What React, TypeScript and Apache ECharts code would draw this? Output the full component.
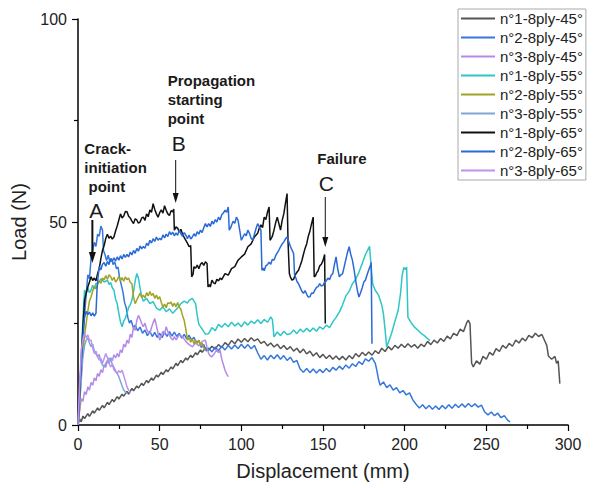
import React, { useEffect, useRef } from "react";
import * as echarts from "echarts";

const FONT = "Liberation Sans, Arial, sans-serif";

const seriesNames = [
  "n°1-8ply-45°", "n°2-8ply-45°", "n°3-8ply-45°",
  "n°1-8ply-55°", "n°2-8ply-55°", "n°3-8ply-55°",
  "n°1-8ply-65°", "n°2-8ply-65°", "n°3-8ply-65°",
];
const seriesColors = [
  "#555555", "#3677db", "#b48ae6",
  "#2ec6c6", "#a2a224", "#7fa6d8",
  "#111111", "#2a6ad6", "#c290ee",
];

const xTicks = { min: 0, max: 300, interval: 50 };
const yTicks = { min: 0, max: 100, interval: 50 };

const s1_45: number[][] = [[0,0],[1,1.5],[2,0.8],[3,2.2],[4,1.6],[6,2.8],[7,2.1],[9,3.5],[10,2.9],[12,4.2],[13,3.6],[15,4.8],[16,4.2],[18,5.6],[19,5.0],[21,6.3],[22,5.7],[24,7.0],[25,6.4],[27,7.6],[28,7.1],[30,8.3],[31,7.6],[33,9.0],[34,8.4],[36,9.6],[37,9.1],[39,10.3],[40,9.7],[42,11.0],[43,10.4],[45,11.6],[46,11.0],[48,12.3],[49,11.8],[51,13.0],[52,12.4],[54,13.6],[55,13.1],[57,14.3],[58,13.8],[60,15.2],[61,14.6],[63,15.9],[64,15.3],[66,16.5],[67,16.0],[69,17.2],[70,16.6],[72,17.8],[73,17.3],[75,18.5],[76,17.9],[78,19.0],[80,18.4],[82,19.4],[84,18.7],[86,19.8],[88,19.1],[90,20.3],[92,19.6],[94,20.8],[96,20.0],[98,21.2],[100,20.4],[102,21.3],[104,20.5],[106,21.5],[108,20.7],[110,21.2],[112,20.1],[114,20.6],[116,19.5],[118,20.2],[120,19.2],[122,19.9],[124,18.8],[126,19.6],[128,18.6],[130,19.3],[132,18.2],[134,18.9],[136,17.8],[138,18.7],[140,17.5],[142,18.2],[144,17.0],[146,17.8],[148,16.6],[150,17.4],[152,16.4],[154,17.2],[156,16.2],[158,17.0],[160,16.1],[162,16.9],[164,16.0],[166,17.1],[168,16.3],[170,17.6],[172,16.8],[174,17.9],[176,17.1],[178,18.0],[180,17.2],[182,18.3],[184,17.6],[186,18.9],[188,18.1],[190,19.3],[192,18.5],[194,19.6],[196,18.9],[198,19.9],[200,19.1],[202,20.0],[204,19.2],[206,19.8],[208,18.9],[210,19.9],[212,19.3],[214,20.6],[216,19.8],[218,20.9],[220,20.2],[222,21.3],[224,20.6],[226,21.9],[228,21.2],[230,22.6],[232,22.0],[234,23.6],[236,23.0],[238,25.2],[239,25.8],[240,24.9],[241,15.2],[242,14.3],[244,15.8],[246,15.0],[248,16.9],[250,16.2],[252,17.9],[254,17.2],[256,18.8],[258,18.1],[260,19.6],[262,18.9],[264,20.1],[266,19.4],[268,20.9],[270,20.2],[272,21.4],[274,20.7],[276,22.1],[278,21.5],[280,22.6],[282,21.8],[284,22.3],[286,20.5],[287,19.6],[288,17.0],[290,16.2],[292,16.9],[293,15.2],[294,15.8],[295,10.2]];

const s2_45: number[][] = [[0,0],[1,6],[2,14],[3,21],[4,27],[5,32],[6,37],[7,36],[8,41],[9,43],[10,45],[11,44],[12,47],[13,46.5],[14,49],[15,48],[15.6,43],[16.5,42],[17.5,40.5],[18.5,41.8],[19.5,40.2],[20.5,41],[21.5,39.5],[22.5,40.2],[23.5,38.5],[24.5,38.9],[25.5,36.2],[26.5,34.5],[27.5,32.8],[28.5,30.2],[29.5,28.9],[30.5,26.5],[31.5,25.1],[32.5,25.8],[34,23.8],[35,24.6],[36.5,23.2],[38,24.1],[39.5,22.6],[41,23.4],[42.5,22.0],[44,23.1],[45.5,21.8],[47,22.8],[48.5,21.6],[50,22.6],[51.5,21.5],[53,22.9],[54.5,21.8],[56,23.0],[57.5,21.9],[59,22.9],[60.5,21.8],[62,22.6],[63.5,21.4],[65,22.3],[66.5,21.2],[68,22.1],[69.5,21.0],[71,21.6],[72.5,20.2],[74,20.8],[75.5,19.1],[77,19.8],[78.5,18.2],[80,19.0],[82,18.0],[84,19.2],[86,18.3],[88,19.4],[90,18.5],[92,19.6],[94,18.7],[96,19.7],[98,18.8],[100,19.9],[102,18.9],[104,19.8],[106,18.8],[108,19.6],[110,17.8],[112,16.2],[114,17.1],[116,16.0],[118,17.2],[120,16.3],[122,17.3],[124,16.2],[126,17.1],[128,15.9],[130,16.7],[132,15.4],[134,15.9],[136,13.8],[138,13.0],[140,13.9],[142,12.9],[144,13.8],[146,12.8],[148,13.7],[150,12.9],[152,13.9],[154,13.1],[156,14.2],[158,13.5],[160,14.5],[162,13.7],[164,14.8],[166,14.0],[168,15.1],[170,14.4],[172,15.6],[174,14.9],[176,16.3],[178,15.7],[180,16.6],[182,15.2],[183,13.4],[184,11.2],[185,9.8],[187,10.6],[189,9.2],[191,9.9],[193,8.6],[195,9.2],[197,7.9],[199,8.5],[201,7.4],[203,7.9],[205,6.2],[207,5.1],[209,4.2],[211,5.0],[213,4.0],[215,4.8],[217,3.9],[219,4.7],[221,3.8],[223,4.8],[225,4.0],[227,5.0],[229,4.1],[231,5.1],[233,4.3],[235,5.2],[237,4.4],[239,5.3],[241,4.5],[243,5.2],[245,4.4],[247,4.9],[249,3.2],[251,2.5],[253,3.2],[255,2.3],[257,2.9],[259,1.8],[261,2.3],[263,1.2],[264.5,0.8]];

const s3_45: number[][] = [[0,0],[1,3.5],[2,6.5],[3,5.8],[4,8.2],[5,7.5],[6,9.4],[7,8.6],[8,10.5],[9,9.8],[10,11.6],[11,10.9],[12,12.7],[13,12.0],[14,13.6],[15,12.9],[16,14.8],[17,14.2],[18,16.0],[19,15.1],[20,16.6],[21,15.8],[22,17.3],[23,16.5],[24,17.6],[25,16.8],[26,18.5],[27,17.8],[28,19.9],[29,19.2],[30,20.9],[31,20.1],[32,22.4],[33,21.6],[34,24.2],[35,23.3],[36,25.8],[37,27.0],[38,26.1],[39,25.0],[40,24.2],[41,25.1],[42,23.6],[43,22.8],[44,22.5],[45,24.0],[46,25.2],[47,26.2],[48,24.5],[49,22.6],[50,20.9],[51,22.0],[52,23.1],[53,22.4],[54,24.2],[55,23.0],[56,22.1],[57,21.4],[58,20.9],[59,21.8],[60,21.0],[62,22.2],[64,21.7],[66,20.6],[68,19.8],[70,19.3],[72,20.2],[74,19.5],[76,20.6],[78,20.9],[79,19.1],[80,17.6],[81,17.0],[82,16.8],[84,17.9],[85,18.6],[86,17.8],[87,18.4],[88,16.2],[89,14.9],[90,13.5],[91,12.6],[92,11.9]];

const s1_55: number[][] = [[0,0],[1,6],[2,16.8],[3,26],[4,33.2],[5,32.4],[6,33.8],[7,32.6],[8,33.2],[9,34.4],[10,33.5],[11,34.9],[12,34.8],[14,36.0],[16,35.2],[18,35.7],[19,34.6],[20,35.1],[21,33.8],[22,33.2],[23,31.0],[24,29.9],[25,27.5],[26,25.4],[27,24.2],[28,25.6],[29,26.3],[30,27.5],[31,29.0],[32,29.6],[33,30.7],[34,32.8],[35,35.5],[36,37.3],[37,36.2],[38,33.8],[39,31.6],[40,30.5],[42,31.2],[44,29.9],[46,30.4],[48,28.8],[50,28.3],[52,29.1],[54,27.9],[56,28.6],[58,27.5],[60,28.4],[62,29.3],[63,29.9],[65,30.5],[67,30.0],[68,30.7],[70,31.2],[72,29.9],[73,27.0],[74,24.8],[76,23.6],[78,22.4],[80,22.5],[82,24.0],[84,23.2],[86,24.8],[88,24.1],[90,25.0],[92,24.2],[94,25.3],[96,24.4],[98,25.1],[100,24.2],[102,25.4],[104,24.6],[106,25.6],[108,25.0],[110,25.9],[112,25.0],[114,26.0],[116,25.3],[118,26.6],[119,26.0],[120,21.7],[122,22.9],[124,22.0],[126,23.1],[128,22.3],[130,22.5],[132,23.4],[134,22.5],[136,23.6],[138,22.9],[140,23.8],[142,23.0],[144,23.9],[146,23.1],[148,24.2],[150,23.6],[152,24.6],[154,24.0],[156,25.4],[158,26.5],[160,27.8],[162,29.6],[164,31.8],[166,32.9],[168,34.8],[170,35.9],[172,37.6],[174,39.8],[176,42.0],[177,42.8],[178.5,44.0],[179.5,39.0],[180.5,34.6],[182,33.2],[184,32.0],[186,29.5],[187,27.4],[188,23.5],[189,19.2],[190,20.3],[192,22.6],[194,25.5],[196,28.2],[197.5,32.5],[198.5,37.0],[199.5,38.8],[200.5,38.3],[201.2,38.9],[202,26.5],[204,25.2],[206,24.1],[208,23.4],[210,22.6],[212,22.0],[214,21.3],[215.5,20.8]];

const s2_55: number[][] = [[0,0],[1,4],[2,12.7],[3,18],[4,22],[5,25],[6,28],[7,30.5],[8,31.6],[9,33],[10,34.2],[11,33.5],[12,34.8],[13,35.5],[14,34.9],[15,36.2],[16,35.7],[17,36.8],[18,35.9],[19,37.0],[20,36.5],[21,35.6],[22,36.4],[23,35.2],[24,35.7],[25,36.6],[26,35.5],[27,36.3],[28,35.4],[29,36.5],[30,35.8],[31,36.2],[32,35.1],[33,34.8],[34,31.5],[35,29.9],[36,30.8],[37,31.6],[38,32.5],[39,31.4],[40,32.0],[41,31.3],[42,32.6],[43,31.8],[44,32.9],[45,31.9],[46,32.4],[47,31.2],[48,32.0],[49,31.0],[50,31.6],[51,30.2],[52,29.0],[53,29.8],[54,28.9],[55,30.1],[56,29.9],[57,30.3],[58,29.2],[59,30.0],[60,29.1],[61,30.2],[62,29.0],[63,28.5],[64,27.0],[65,25.8],[66,23.6],[67,20.9],[68,21.5],[69,20.4],[70,21.2],[71,20.0],[72,20.9],[73,20.1],[74,20.9],[75,19.6],[76,20.2],[77,19.0],[78,18.4]];

const s3_55: number[][] = [[0,0],[0.5,3],[1,6],[2,11],[3,16.8],[4,19.5],[5,20.9],[6,21.5],[7,20.2],[8,19.3],[9,19.9],[10,18.2],[11,17.5],[12,16.8],[13,17.4],[14,15.6],[15,14.8],[16,14.3],[17,15.2],[18,15.8],[19,16.5],[20,16.0],[21,15.0],[22,14.2],[23,13.4],[24,12.7],[25,11.9],[26,10.8],[27,9.6],[28,8.6],[29,8.1],[30,7.8]];

const s1_65: number[][] = [[0,0],[1,8],[2,16],[3,24],[4,30.7],[5,32.5],[6,34],[7,35.2],[8,36.5],[9,35.6],[10,36.2],[11,35.5],[12,37.3],[13,38.5],[14,41],[15,43],[16,44.2],[17,46],[18,47],[19,46.0],[20,46.5],[21,45.8],[22,46.3],[23,47.8],[24,49],[25,50.5],[26,52],[27,51.0],[28,51.5],[29,52.6],[30,52.5],[31,51.4],[32,51],[33,50.2],[34,49.6],[35,50.8],[36,50.5],[37,49.7],[38,50],[39,51.0],[40,51.2],[41,50.4],[42,52],[43,51.3],[44,53],[45,52.4],[46,54.5],[47,53.1],[48,52],[49,51.2],[50,52.3],[51,53],[52,52.2],[53,54],[54,52.9],[55,52],[56,51.6],[57,52.8],[58,52.5],[58.6,53.2],[59,48],[60,48.8],[61,48.5],[62,47.6],[63,48.2],[64,47],[65,46.2],[66,45.5],[67,44.8],[68,43.9],[69,44.2],[69.6,36.5],[70.5,37.2],[71,39],[72,38.6],[73,39.4],[74,38.5],[75,39.6],[76,40],[77,39.3],[78,40.2],[79,39.8],[79.6,34],[80.5,34.6],[81,34],[82,35.7],[83,35.0],[84,34.8],[85,35.9],[86,35.5],[87,36.2],[88,35.8],[90,37.3],[92,36.9],[94,38.5],[96,39.0],[98,40.6],[100,41.4],[102,42.1],[104,43.9],[106,44.6],[108,46.3],[110,47.2],[111,48.5],[112,49.3],[113,48.6],[114,51.2],[115,50.6],[116,52.4],[117,53.7],[117.6,45.5],[118.5,46.1],[119,46.5],[120,48],[121,49.8],[122,51.2],[123,49.6],[124,48],[125,50.4],[126,52],[127,54.6],[128,57],[128.6,45],[129.4,37.3],[130,36.5],[131,35.7],[132,35.9],[133,37.0],[134,37.6],[135,38.1],[136,39.2],[137,40.4],[138,42],[139,43.5],[140,44.6],[141,46.5],[142,47.8],[143,49.6],[144,51.2],[144.6,36.5],[145.5,36.8],[146,37.4],[147,38],[148,39.2],[149,39.6],[150,40.5],[151,42],[151.4,25]];

const s2_65: number[][] = [[0,0],[1,8],[2,15],[3,22],[4,26.5],[5,28],[6,27.2],[7,27.8],[8,26.9],[9,27.6],[10,26.8],[11,27.5],[11.6,33],[12.3,36.5],[13,39],[14,38.2],[15,39.6],[16,40],[17,39.1],[18,40.3],[19,39.5],[20,41],[21,40.2],[22,41.2],[23,40.4],[24,41.4],[25,40.6],[26,41.7],[27,40.9],[28,42.0],[29,41.3],[30,42],[31,41.4],[32,42.6],[33,41.9],[34,43],[35,42.3],[36,43.5],[37,42.8],[38,44.1],[39,43.4],[40,44],[41,43.5],[42,44.8],[43,44.2],[44,45.5],[45,44.8],[46,45.9],[47,45.2],[48,46.3],[49,45.5],[50,46],[51,45.6],[52,46.8],[53,46.1],[54,47],[55,46.4],[56,47.6],[57,46.9],[58,47.5],[59,46.6],[60,47.3],[61,46.7],[62,48],[63,47.1],[64,46.5],[65,47.4],[66,46.8],[67,45.9],[68,46.8],[69,45.8],[70,46.3],[71,47.1],[72,46.5],[73,47.6],[74,47.0],[75,48],[76,47.4],[77,48.6],[78,49.6],[79,48.8],[80,49.6],[81,48.9],[82,50.2],[83,49.5],[84,50.6],[85,50.0],[86,51.2],[87,50.5],[88,51.8],[89,52.2],[90,52.9],[91,52.4],[92,53.7],[92.6,48],[93.5,48.6],[94,49.2],[95,50.2],[96,49.7],[97,51.2],[98,50.4],[99,48.0],[100,45.5],[101,46.3],[102,47.1],[103,46.6],[104,48],[105,47.2],[106,46.0],[107,45.5],[108,47.0],[109,48.4],[110,49.6],[111,48.8],[112,48],[112.6,38.1],[113.5,38.6],[114,38.0],[115,39.2],[116,39.5],[117,40.1],[118,39.6],[119,40.8],[120,40.6],[121,41.7],[122,42.4],[123,43.1],[124,43.9],[125,44.6],[126,45.1],[127,45.8],[128,46.3],[129,45.2],[130,44],[131,43.1],[132,42.2],[132.6,37],[133.5,36.1],[134,35.4],[135,34.8],[136,33.9],[137,33.0],[138,32.4],[139,33.1],[140,32.2],[141,31.5],[142,31.6],[143,32.5],[144,32.4],[145,33.2],[146,33.9],[147,34.1],[148,34.8],[149,34.2],[150,34.4],[151,35.2],[152,35.5],[153,36.2],[154,35.8],[155,36.9],[156,37.3],[157,39.5],[158,41.4],[159,38.5],[160,36.5],[161,37.0],[162,37.3],[163,39.0],[164,40.8],[165,42.5],[166,43.9],[167,42.0],[168,40.6],[169,38.3],[170,35.6],[171,33.2],[172,31.5],[173,32.6],[174,33.8],[175,35.2],[176,35.7],[177,37.0],[178,38.2],[179,39.3],[179.5,40.0],[180,20.0]];

const s3_65: number[][] = [[0,0],[0.5,5],[1,10],[1.5,14],[2,18.5],[3,21],[4,22.5],[5,21.5],[6,22.2],[7,20.9],[8,20.9],[9,18.9],[10,17.6],[11,18.2],[12,16.8],[13,16.0],[14,16.4],[15,15.2],[16,16.4],[17,17.6],[18,16.6],[19,15.2],[20,14.3],[21,14.9],[22,13.6],[23,13.1],[24,12.7],[25,13.4],[26,12.9],[27,13.5],[28,12.2],[29,10.8],[30,9.4],[31,8.6],[32,8.0]];

const seriesData = [s1_45, s2_45, s3_45, s1_55, s2_55, s3_55, s1_65, s2_65, s3_65];

// annotation anchors (x in data units)
const annoA = { x: 8.8, lines: ["Crack-", "initiation", " point"], letter: "A" };
const annoB = { x: 59.8, lines: ["Propagation", "starting", "point"], letter: "B" };
const annoC = { x: 151.4, lines: ["Failure"], letter: "C" };

export default function App() {
  const ref = useRef<HTMLDivElement>(null);
  useEffect(() => {
    if (!ref.current) return;
    const chart = echarts.init(ref.current, null, { renderer: "svg" });
    const axisCommon = {
      axisLine: { show: true, lineStyle: { color: "#000", width: 1.5 } },
      axisTick: { show: true, inside: false, length: 6, lineStyle: { color: "#000", width: 1.2 } },
      minorTick: { show: true, splitNumber: 2, length: 4, lineStyle: { color: "#000", width: 1.2 } },
      splitLine: { show: false },
      axisLabel: { color: "#222", fontSize: 16, fontFamily: FONT, margin: 11 },
      nameTextStyle: { color: "#222", fontSize: 20, fontFamily: FONT },
    };
    chart.setOption({
      animation: false,
      backgroundColor: "#fff",
      grid: { left: 78, right: 29, top: 19, bottom: 63, containLabel: false },
      xAxis: {
        type: "value",
        ...xTicks,
        name: "Displacement (mm)",
        nameLocation: "middle",
        nameGap: 36,
        ...axisCommon,
      },
      yAxis: {
        type: "value",
        ...yTicks,
        name: "Load (N)",
        nameLocation: "middle",
        nameGap: 36,
        ...axisCommon,
      },
      legend: {
        show: true,
        orient: "vertical",
        left: 458,
        top: 9,
        padding: [2, 3, 2, 3],
        itemWidth: 34,
        itemHeight: 2,
        itemGap: 4,
        borderColor: "#aaa",
        borderWidth: 1,
        backgroundColor: "#fff",
        textStyle: { fontSize: 15, fontFamily: FONT, color: "#222", lineHeight: 15 },
        data: seriesNames.map((n) => ({ name: n, icon: "rect" })),
      },
      series: seriesNames.map((name, i) => ({
        name,
        type: "line",
        data: seriesData[i],
        symbol: "none",
        showSymbol: false,
        color: seriesColors[i],
        itemStyle: { color: seriesColors[i] },
        lineStyle: { color: seriesColors[i], width: 1.5 },
        z: 2,
      })),
    });

    const px = (x: number) => chart.convertToPixel({ xAxisIndex: 0 }, x) as number;
    const ax = px(annoA.x);
    const bx = px(annoB.x);
    const cx = px(annoC.x);
    const txt = (x: number, y: number, text: string, bold: boolean, size: number, align = "left") => ({
      type: "text",
      x,
      y,
      z: 100,
      style: {
        text,
        fill: "#1a1a1a",
        fontSize: size,
        fontWeight: bold ? "bold" : "normal",
        fontFamily: FONT,
        align,
        verticalAlign: "middle",
      },
    });
    const arrow = (x: number, y1: number, y2: number, w: number, hw: number, hl: number) => [
      { type: "line", z: 100, shape: { x1: x, y1, x2: x, y2: y2 - hl + 1 }, style: { stroke: "#111", lineWidth: w } },
      { type: "polygon", z: 100, shape: { points: [[x - hw, y2 - hl], [x + hw, y2 - hl], [x, y2]] }, style: { fill: "#111" } },
    ];
    chart.setOption({
      graphic: [
        txt(ax - 8, 148, annoA.lines[0], true, 15),
        txt(ax - 8, 167, annoA.lines[1], true, 15),
        txt(ax - 8, 186, annoA.lines[2], true, 15),
        txt(ax + 4, 210, annoA.letter, false, 21, "center"),
        ...arrow(ax, 220, 263, 2, 3.5, 11),
        txt(bx - 8, 80, annoB.lines[0], true, 15),
        txt(bx - 8, 99, annoB.lines[1], true, 15),
        txt(bx - 8, 118, annoB.lines[2], true, 15),
        txt(bx + 3, 143, annoB.letter, false, 21, "center"),
        ...arrow(bx, 160, 203, 1, 3, 10),
        txt(cx - 8, 158, annoC.lines[0], true, 15),
        txt(cx + 1, 183, annoC.letter, false, 21, "center"),
        ...arrow(cx, 197, 247, 1, 3, 10),
      ],
    });
    return () => chart.dispose();
  }, []);
  return <div ref={ref} style={{ width: 597, height: 488, position: "fixed", left: 0, top: 0 }} />;
}
